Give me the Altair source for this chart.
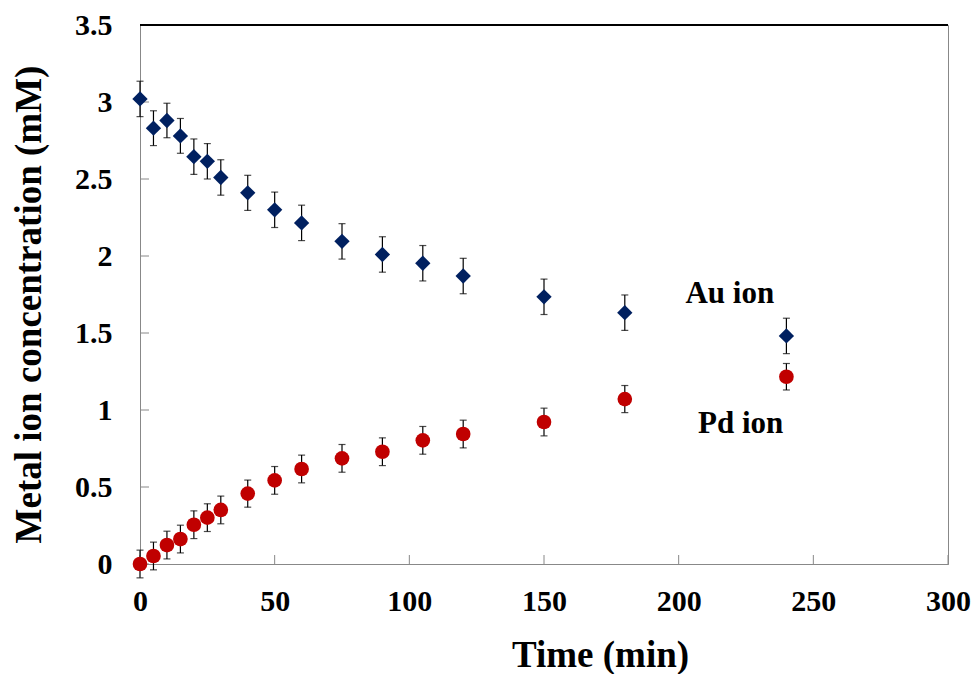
import altair as alt
import pandas as pd

# Data
time_min = [0, 5, 10, 15, 20, 25, 30, 40, 50, 60, 75, 90, 105, 120, 150, 180, 240]
au_conc = [3.02, 2.83, 2.88, 2.78, 2.645, 2.615, 2.51, 2.41, 2.30, 2.215, 2.095, 2.01, 1.953, 1.87, 1.735, 1.632, 1.481]
au_err = [0.115, 0.113, 0.112, 0.113, 0.115, 0.115, 0.115, 0.114, 0.115, 0.115, 0.115, 0.115, 0.115, 0.115, 0.115, 0.115, 0.115]
pd_conc = [0.0, 0.052, 0.123, 0.162, 0.255, 0.301, 0.351, 0.457, 0.543, 0.617, 0.686, 0.729, 0.803, 0.844, 0.922, 1.071, 1.216]
pd_err = [0.09, 0.09, 0.09, 0.09, 0.09, 0.09, 0.09, 0.088, 0.09, 0.09, 0.09, 0.09, 0.09, 0.09, 0.09, 0.088, 0.086]

x_ticks = [0, 50, 100, 150, 200, 250, 300]
y_ticks = [0, 0.5, 1, 1.5, 2, 2.5, 3, 3.5]

labels = ["Au ion", "Pd ion"]
label_x = [219, 223]
label_y = [1.753, 0.909]

FONT = "Liberation Serif"
W, H = 808, 539

au_df = pd.DataFrame({"t": time_min, "c": au_conc, "e": au_err})
pd_df = pd.DataFrame({"t": time_min, "c": pd_conc, "e": pd_err})
lab_df = pd.DataFrame({"label": labels, "t": label_x, "c": label_y})
xt_df = pd.DataFrame({"t": x_ticks})
yt_df = pd.DataFrame({"c": y_ticks})

xscale = alt.Scale(domain=[0, 300], nice=False, zero=False)
yscale = alt.Scale(domain=[0, 3.5], nice=False, zero=False)

xaxis = alt.Axis(
    values=x_ticks, ticks=False, grid=False, domainColor="#888888",
    labelFont=FONT, labelFontSize=30, labelFontWeight="bold", labelColor="black",
    labelPadding=22, labelFlush=False, labelOverlap=False, format="d",
    title="Time (min)", titleFont=FONT, titleFontSize=37, titleFontWeight="bold",
    titleColor="black", titleX=460, titleY=102, titleBaseline="alphabetic",
    titleAnchor="middle", titleAlign="center",
)
yaxis = alt.Axis(
    values=y_ticks, ticks=False, grid=False, domainColor="#888888",
    labelFont=FONT, labelFontSize=30, labelFontWeight="bold", labelColor="black",
    labelPadding=28, labelFlush=False, labelOverlap=False, format="~g",
    title="Metal ion concentration (mM)", titleFont=FONT, titleFontSize=37,
    titleFontWeight="bold", titleColor="black", titleX=-100, titleY=279,
    titleBaseline="alphabetic", titleAngle=-90, titleAlign="center",
)

x_enc = alt.X("t:Q", scale=xscale, axis=xaxis)
y_enc = alt.Y("c:Q", scale=yscale, axis=yaxis)


def series(df, shape, color, size):
    base = alt.Chart(df).transform_calculate(
        lo="datum.c - datum.e", hi="datum.c + datum.e"
    )
    rule = base.mark_rule(color="black", strokeWidth=1.2).encode(
        x=alt.X("t:Q", scale=xscale), y=alt.Y("lo:Q", scale=yscale), y2="hi:Q"
    )
    cap_lo = base.mark_tick(orient="horizontal", color="black", size=7, thickness=1.2).encode(
        x=alt.X("t:Q", scale=xscale), y=alt.Y("lo:Q", scale=yscale)
    )
    cap_hi = base.mark_tick(orient="horizontal", color="black", size=7, thickness=1.2).encode(
        x=alt.X("t:Q", scale=xscale), y=alt.Y("hi:Q", scale=yscale)
    )
    pts = alt.Chart(df).mark_point(
        shape=shape, filled=True, color=color, size=size, opacity=1
    ).encode(x=x_enc, y=y_enc)
    return [rule, cap_lo, cap_hi, pts]


# inward tick marks
xtick_marks = alt.Chart(xt_df).mark_rule(color="#888888", strokeWidth=1).encode(
    x=alt.X("t:Q", scale=xscale), y=alt.value(H), y2=alt.value(H - 9)
)
ytick_marks = alt.Chart(yt_df).mark_rule(color="#888888", strokeWidth=1).encode(
    y=alt.Y("c:Q", scale=yscale), x=alt.value(0), x2=alt.value(9)
)
top_line = alt.Chart(yt_df).mark_rule(color="black", strokeWidth=1.5).encode(
    x=alt.value(0), x2=alt.value(W), y=alt.value(0)
)

texts = alt.Chart(lab_df).mark_text(
    font=FONT, fontSize=31, fontWeight="bold", color="black",
    align="center", baseline="middle"
).encode(x=alt.X("t:Q", scale=xscale), y=alt.Y("c:Q", scale=yscale), text="label:N")

layers = [xtick_marks, ytick_marks, top_line]
layers += series(au_df, "diamond", "#002060", 235)
layers += series(pd_df, "circle", "#C00000", 215)
layers += [texts]

chart = alt.layer(*layers).properties(
    width=W, height=H,
    autosize=alt.AutoSizeParams(type="none"),
    padding={"left": 140, "top": 25, "right": 28, "bottom": 110},
    background="white",
).configure_view(stroke="#888888", strokeWidth=1)

chart.save("out.html", embed_options={"renderer": "svg", "actions": False})
